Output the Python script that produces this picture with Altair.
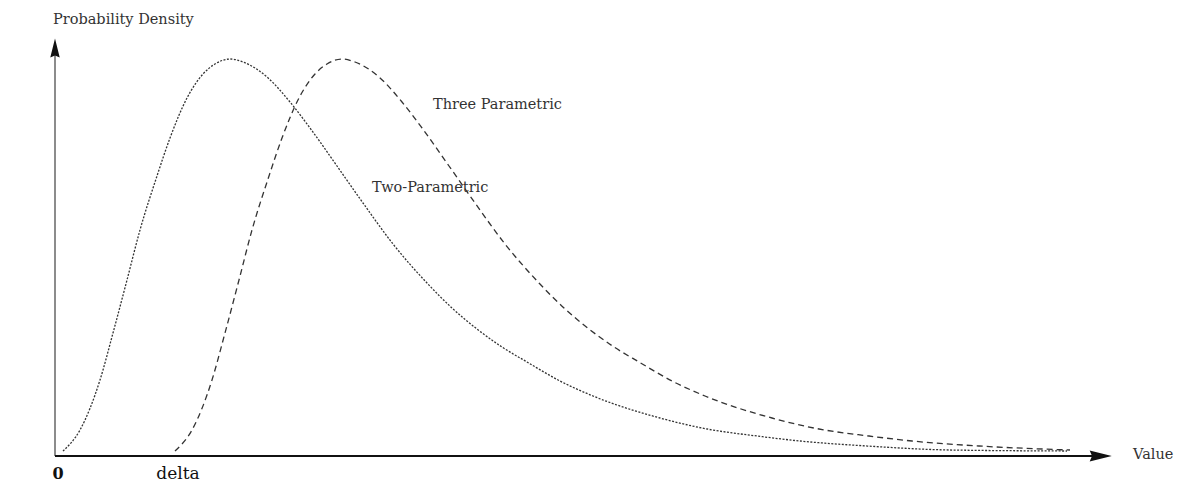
import altair as alt
import pandas as pd

# Two-parametric curve (value, density)
two_x = [8, 25, 45, 58, 72, 85, 102, 115, 132, 148, 160, 175, 188, 212, 235, 255,
         282, 308, 338, 372, 397, 422, 447, 472, 505, 538, 605, 652, 702, 745, 812,
         895, 1012]
two_y = [5, 26, 76, 123, 176, 226, 280, 318, 358, 382, 392, 397, 394, 379, 354, 328,
         290, 253, 212, 173, 148, 127, 109, 94, 75, 60, 38, 27, 20, 15, 10,
         6, 5]

# Three-parametric curve (starts at delta)
three_x = [120, 137, 157, 170, 184, 197, 214, 227, 244, 260, 272, 287, 300, 324, 347,
           367, 394, 420, 450, 484, 509, 534, 559, 584, 617, 650, 717, 764, 814, 857,
           924, 1015]
three_y = [5, 26, 76, 123, 176, 226, 280, 318, 358, 382, 392, 397, 394, 379, 354,
           328, 290, 253, 212, 173, 148, 127, 109, 94, 75, 60, 38, 27, 20, 15,
           10, 6]

# Annotation texts
label_text = ["Probability Density", "Value", "Three Parametric", "Two-Parametric"]
label_x = [-2, 1078, 378, 317]
label_y = [436, 1, 351, 268]

origin_text = ["0"]
origin_x = [3]
delta_text = ["delta"]
delta_x = [123]
tick_y = [-18]

xs = alt.Scale(domain=[-47, 1128], nice=False, zero=False)
ys = alt.Scale(domain=[-29, 448], nice=False, zero=False)

X = lambda f: alt.X(f, scale=xs, axis=None)
Y = lambda f: alt.Y(f, scale=ys, axis=None)

df_two = pd.DataFrame({"value": two_x, "density": two_y})
df_three = pd.DataFrame({"value": three_x, "density": three_y})

two = alt.Chart(df_two).mark_line(
    color="#333333", strokeWidth=1.3, strokeDash=[2, 1.5], interpolate="monotone"
).encode(x=X("value:Q"), y=Y("density:Q"))

three = alt.Chart(df_three).mark_line(
    color="#333333", strokeWidth=1.3, strokeDash=[6, 4], interpolate="monotone"
).encode(x=X("value:Q"), y=Y("density:Q"))

# Axes lines
yaxis = alt.Chart(pd.DataFrame({"x": [0], "y": [0], "y2": [404]})).mark_rule(
    color="#666666", strokeWidth=1.5
).encode(x=X("x:Q"), y=Y("y:Q"), y2="y2:Q")

xaxis = alt.Chart(pd.DataFrame({"x": [0], "x2": [1041], "y": [0]})).mark_rule(
    color="#111111", strokeWidth=2
).encode(x=X("x:Q"), x2="x2:Q", y=Y("y:Q"))

yarrow = alt.Chart(pd.DataFrame({"x": [0], "y": [404]})).mark_point(
    shape="M0,-1L0.35,0.4L0,0.25L-0.35,0.4Z", filled=True, color="#111111",
    size=730, opacity=1
).encode(x=X("x:Q"), y=Y("y:Q"))

xarrow = alt.Chart(pd.DataFrame({"x": [1041], "y": [0]})).mark_point(
    shape="M1,0L-0.4,0.35L-0.25,0L-0.4,-0.35Z", filled=True, color="#111111",
    size=1000, opacity=1
).encode(x=X("x:Q"), y=Y("y:Q"))

labels = alt.Chart(pd.DataFrame({"t": label_text, "x": label_x, "y": label_y})).mark_text(
    font="DejaVu Serif", fontSize=14.5, align="left", baseline="middle", color="#333333"
).encode(x=X("x:Q"), y=Y("y:Q"), text="t:N")

origin = alt.Chart(pd.DataFrame({"t": origin_text, "x": origin_x, "y": tick_y})).mark_text(
    font="DejaVu Serif", fontSize=16, fontWeight="bold", align="center",
    baseline="middle", color="#111111"
).encode(x=X("x:Q"), y=Y("y:Q"), text="t:N")

delta = alt.Chart(pd.DataFrame({"t": delta_text, "x": delta_x, "y": tick_y})).mark_text(
    font="DejaVu Serif", fontSize=17, align="center", baseline="middle", color="#111111"
).encode(x=X("x:Q"), y=Y("y:Q"), text="t:N")

chart = alt.layer(yaxis, xaxis, two, three, yarrow, xarrow, labels, origin, delta).properties(
    width=1175, height=477,
    autosize=alt.AutoSizeParams(type="none"),
    padding={"left": 0, "top": 0, "right": 0, "bottom": 0},
    background="white",
).configure_view(stroke=None)

chart.save("out.html", embed_options={"renderer": "svg", "actions": False})
